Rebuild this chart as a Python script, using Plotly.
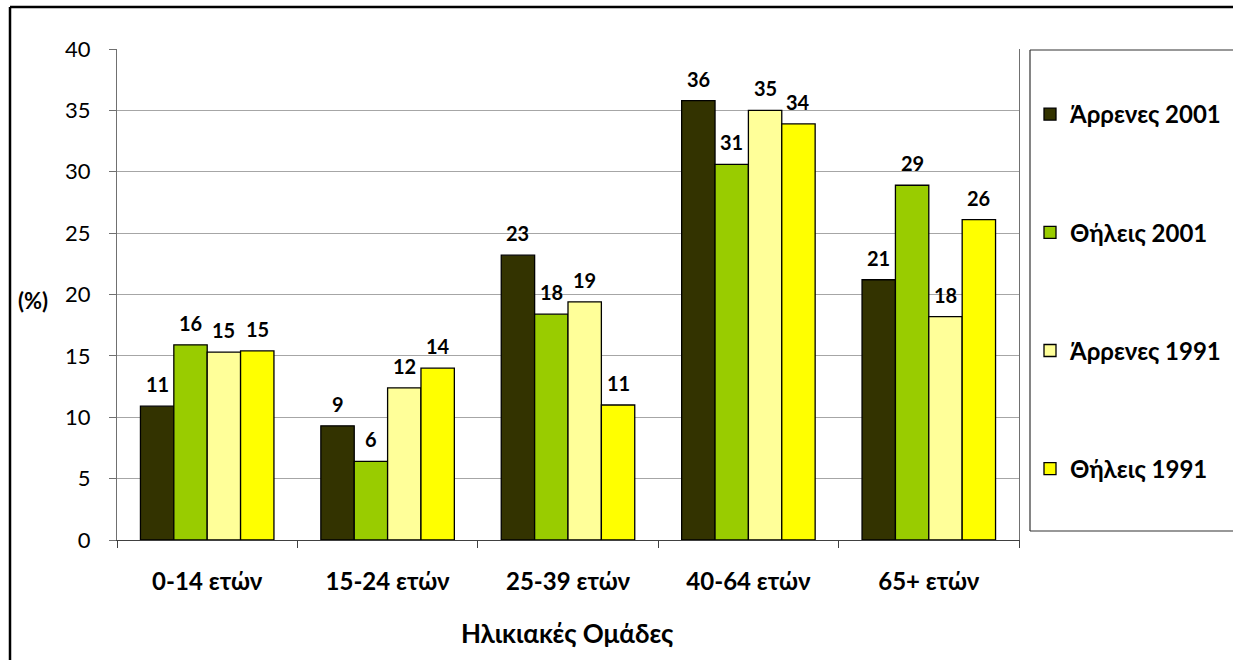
import plotly.graph_objects as go

# Data
age_groups = ["0-14 ετών", "15-24 ετών", "25-39 ετών", "40-64 ετών", "65+ ετών"]
series_names = ["Άρρενες 2001", "Θήλεις 2001", "Άρρενες 1991", "Θήλεις 1991"]
males_2001 = [10.9, 9.3, 23.2, 35.8, 21.2]
females_2001 = [15.9, 6.4, 18.4, 30.6, 28.9]
males_1991 = [15.3, 12.4, 19.4, 35.0, 18.2]
females_1991 = [15.4, 14.0, 11.0, 33.9, 26.1]

series_values = [males_2001, females_2001, males_1991, females_1991]
colors = ["#333300", "#99cc00", "#ffff99", "#ffff00"]
font_family = "Lato, 'Open Sans', sans-serif"

# Plot area geometry (px)
L, R, T, B = 117, 214, 49, 120
W, H = 1233 - L - R, 660 - T - B
bargap = 0.26

def px_x(px):
    return (px - L) / W

def px_y(py):
    return (660 - B - py) / H

def seg(x0, y0, x1, y1, color, width):
    return dict(type="line", xref="paper", yref="paper",
                x0=px_x(x0), y0=px_y(y0), x1=px_x(x1), y1=px_y(y1),
                line=dict(color=color, width=width))

fig = go.Figure()

for i, (name, vals) in enumerate(zip(series_names, series_values)):
    fig.add_trace(go.Bar(
        x=age_groups, y=vals,
        name=name,
        legendgroup=name,
        marker=dict(color=colors[i], line=dict(color="black", width=1.3)),
        hoverinfo="x+y+name",
    ))

# value labels floating above the bars, like the Excel original
bar_px = W / len(age_groups) * (1 - bargap) / len(series_names)
labels = []
for i, vals in enumerate(series_values):
    for cat, v in zip(age_groups, vals):
        labels.append(dict(
            x=cat, y=v, xref="x", yref="y",
            text=f"{v:.0f}", showarrow=False,
            xshift=(i - 1.5) * bar_px, yshift=8,
            yanchor="bottom",
            font=dict(size=20, weight="bold"),
        ))

fig.update_layout(
    width=1233, height=660,
    barmode="group",
    bargap=bargap,
    bargroupgap=0,
    margin=dict(l=L, r=R, t=T, b=B, autoexpand=False),
    plot_bgcolor="white",
    paper_bgcolor="white",
    font=dict(family=font_family, color="black"),
    legend=dict(
        x=px_x(1030), y=px_y(92),
        xanchor="left", yanchor="top",
        traceorder="grouped",
        tracegroupgap=84,
        font=dict(size=24, weight="bold"),
        bgcolor="rgba(0,0,0,0)",
    ),
    shapes=[
        # outer chart frame (only the left and top edges are in view)
        seg(10, 7, 10, 660, "black", 2.5),
        seg(10, 7, 1233, 7, "black", 2.5),
        # legend box, open to the right like the cropped original
        seg(1030, 50, 1233, 50, "#333333", 1.2),
        seg(1030, 50, 1030, 531, "#333333", 1.2),
        seg(1030, 531, 1233, 531, "#333333", 1.2),
    ],
    annotations=labels + [
        dict(text="<b>(%)</b>", xref="paper", yref="paper",
             x=px_x(33), y=px_y(300), showarrow=False,
             xanchor="center", yanchor="middle",
             font=dict(size=22)),
        dict(text="<b>Ηλικιακές Ομάδες</b>", xref="paper", yref="paper",
             x=px_x(567), y=px_y(633), showarrow=False,
             xanchor="center", yanchor="middle",
             font=dict(size=26)),
    ],
)

fig.update_xaxes(
    showline=True, linecolor="#404040", linewidth=1.3,
    ticks="outside", tickson="boundaries", ticklen=7, tickcolor="#404040",
    tickfont=dict(size=24, weight="bold"),
    ticklabelstandoff=20,
    showgrid=False,
)

fig.update_yaxes(
    range=[0, 40], dtick=5,
    showline=True, linecolor="#707070", linewidth=1.3, mirror=True,
    ticks="outside", ticklen=7, tickcolor="#707070",
    tickfont=dict(size=22),
    ticklabelstandoff=14,
    showgrid=True, gridcolor="#a6a6a6", gridwidth=1,
    zeroline=False,
)

fig.write_html(
    "out.html", config={"displayModeBar": False},
    post_script="document.body.style.margin='0';"
                "document.body.style.overflow='hidden';"
                "document.documentElement.style.overflow='hidden';",
)
